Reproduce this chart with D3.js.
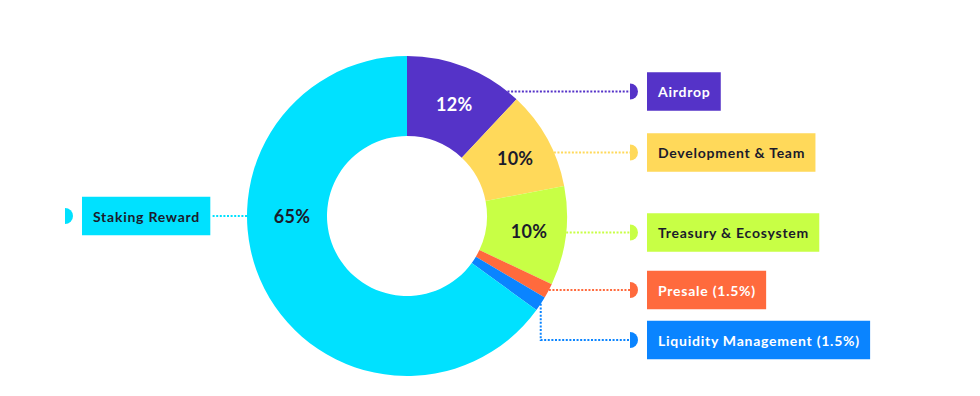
<!DOCTYPE html>
<html>
<head>
<meta charset="utf-8">
<script src="https://cdn.jsdelivr.net/npm/d3@7"></script>
<style>
  html, body { margin: 0; padding: 0; background: #ffffff; }
  svg { display: block; }
  text { font-family: "Lato", "Noto Sans", sans-serif; }
</style>
</head>
<body>
<svg id="chart" width="980" height="396"></svg>
<script>
// ---- data ----
const categories = ["Airdrop", "Development & Team", "Treasury & Ecosystem", "Presale (1.5%)", "Liquidity Management (1.5%)", "Staking Reward"];
const values = [12, 10, 10, 1.5, 1.5, 65];
const percentLabels = ["12%", "10%", "10%", "", "", "65%"];
const colors = ["#5533c8", "#ffd95a", "#c8ff45", "#ff6a3d", "#0a84ff", "#00e1ff"];
const textColors = ["#ffffff", "#1b1b2b", "#1b1b2b", "#ffffff", "#ffffff", "#1b1b2b"];

// ---- layout ----
const cx = 407, cy = 216, R = 160, r0 = 80;
const labelYs = [91.5, 152.5, 232.5, 290, 340, 216];
const rightBoxX = 647, markerX = 630, boxH = 38.5, padX = 11;

const svg = d3.select("#chart");
const g = svg.append("g").attr("transform", `translate(${cx},${cy})`);

const pie = d3.pie().sort(null).value(d => d.value).startAngle(0).endAngle(2 * Math.PI);
const data = categories.map((c, i) => ({ name: c, value: values[i], i }));
const arcs = pie(data);
const arc = d3.arc().innerRadius(r0).outerRadius(R);

g.selectAll("path.slice").data(arcs).enter().append("path")
  .attr("class", "slice")
  .attr("d", arc)
  .attr("fill", d => colors[d.data.i]);

// percent labels
const labelArc = d3.arc().innerRadius(r0).outerRadius(R);
g.selectAll("text.pct").data(arcs.filter(d => percentLabels[d.data.i])).enter().append("text")
  .attr("class", "pct")
  .attr("transform", d => {
    if (d.data.i === 5) {
      const a = 1.5 * Math.PI, rr = 115;
      return `translate(${rr * Math.sin(a)},${-rr * Math.cos(a)})`;
    }
    const [x, y] = labelArc.centroid(d);
    return `translate(${x + 3},${y})`;
  })
  .attr("text-anchor", "middle")
  .attr("dominant-baseline", "central")
  .attr("font-size", 18)
  .attr("font-weight", 700)
  .attr("letter-spacing", 0.3)
  .attr("fill", d => textColors[d.data.i])
  .text(d => percentLabels[d.data.i]);

// leader lines, markers and label boxes
arcs.forEach(d => {
  const i = d.data.i;
  const y = labelYs[i] - cy;
  const col = colors[i];
  let pathD;
  if (i === 5) {
    const xArc = -Math.sqrt(R * R - y * y);
    pathD = `M${xArc},${y}L${82 + 129 - cx},${y}`;
  } else if (i === 4) {
    const mid = (d.startAngle + d.endAngle) / 2;
    const px = R * Math.sin(mid), py = -R * Math.cos(mid);
    pathD = `M${px},${py}L${px},${y}L${markerX - cx},${y}`;
  } else {
    const xArc = Math.sqrt(R * R - y * y);
    pathD = `M${xArc},${y}L${markerX - cx},${y}`;
  }
  g.append("path")
    .attr("d", pathD)
    .attr("fill", "none")
    .attr("stroke", col)
    .attr("stroke-width", 2)
    .attr("stroke-dasharray", "2 1.6");

  // half-circle marker (flat side left)
  const mx = (i === 5 ? 65 : markerX) - cx;
  const mr = 8;
  g.append("path")
    .attr("d", `M${mx},${y - mr}A${mr},${mr} 0 0 1 ${mx},${y + mr}Z`)
    .attr("fill", col);

  // box + text
  const bx = (i === 5 ? 82 : rightBoxX) - cx;
  const box = g.append("rect")
    .attr("x", bx).attr("y", y - boxH / 2)
    .attr("height", boxH)
    .attr("fill", col);
  const t = g.append("text")
    .attr("x", bx + padX).attr("y", y)
    .attr("dominant-baseline", "central")
    .attr("font-size", 14)
    .attr("font-weight", 700)
    .attr("letter-spacing", 0.75)
    .attr("fill", textColors[i])
    .text(d.data.name);
  const w = t.node().getComputedTextLength();
  box.attr("width", w + 2 * padX - 0.75);
});
</script>
</body>
</html>
